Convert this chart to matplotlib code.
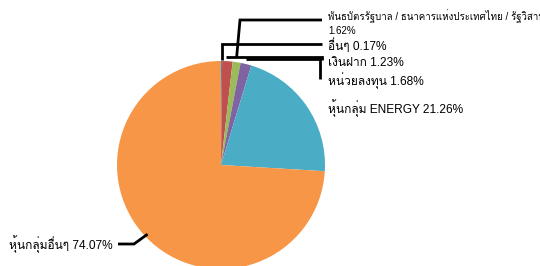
import matplotlib
matplotlib.use("Agg")
import matplotlib.pyplot as plt
import numpy as np
from matplotlib import font_manager
from matplotlib.ft2font import FT2Font

# slice data, clockwise from 12 o'clock
labels = [
    "อื่นๆ",
    "พันธบัตรรัฐบาล / ธนาคารแห่งประเทศไทย / รัฐวิสาหกิจ",
    "เงินฝาก",
    "หน่วยลงทุน",
    "หุ้นกลุ่ม ENERGY",
    "หุ้นกลุ่มอื่นๆ",
]
values = [0.17, 1.62, 1.23, 1.68, 21.26, 74.07]
colors = ["#4f81bd", "#c0504d", "#9bbb59", "#8064a2", "#4bacc6", "#f79646"]


def find_thai_font():
    for f in font_manager.fontManager.ttflist:
        try:
            if 0x0E2B in FT2Font(f.fname).get_charmap():
                return f.name
        except Exception:
            pass
    return "DejaVu Sans"


families = ["Liberation Sans", find_thai_font(), "DejaVu Sans"]
plt.rcParams["font.family"] = families

W, H = 540, 266
fig = plt.figure(figsize=(W / 100, H / 100), dpi=100)
ax = fig.add_axes([0, 0, 1, 1])
ax.set_xlim(0, W)
ax.set_ylim(0, H)
ax.set_aspect("equal")
ax.axis("off")

cx, cy, R = 221, H - 165, 104
wedges, _ = ax.pie(values, colors=colors, startangle=90, counterclock=False,
                   center=(cx, cy), radius=R, frame=False,
                   wedgeprops=dict(linewidth=0))
ax.set_xlim(0, W)
ax.set_ylim(0, H)


def anchor(i, r=1.0):
    w = wedges[i]
    t = np.deg2rad((w.theta1 + w.theta2) / 2)
    return cx + r * R * np.cos(t), cy + r * R * np.sin(t)


def y(v):
    return H - v


lk = dict(color="black", lw=2, solid_capstyle="butt", solid_joinstyle="miter")
lx = 328

# อื่นๆ
ax0, _ = anchor(0)
ax.plot([ax0, ax0, 322], [y(60), y(44), y(44)], **lk)
# พันธบัตร (line drawn toward the green slice as in the original)
a2, _ = anchor(2)
ax.plot([a2, 240, 322], [y(57), y(20), y(20)], **lk)
# เงินฝาก
a1, _ = anchor(1)
ax.plot([a1 - 1, 322, 322], [y(56.5), y(56.5), y(60)], **lk)
# หน่วยลงทุน
a3, _ = anchor(3)
ax.plot([a3, 320, 320], [y(58.5), y(58.5), y(79)], **lk)
# หุ้นกลุ่มอื่นๆ
ox, oy = anchor(5, 0.97)
ax.plot([118, 134, ox], [y(244), y(244), oy], **lk)

fs = 8.6
ax.text(lx, y(16.5), labels[1], fontsize=7, va="center", ha="left")
ax.text(lx, y(31), f"{values[1]:.2f}%", fontsize=7, va="center", ha="left")
ax.text(lx, y(45.5), f"{labels[0]} {values[0]:.2f}%", fontsize=fs, va="center")
ax.text(lx, y(62.5), f"{labels[2]} {values[2]:.2f}%", fontsize=fs, va="center")
ax.text(lx, y(80.5), f"{labels[3]} {values[3]:.2f}%", fontsize=fs, va="center")
ax.text(lx, y(108.5), f"{labels[4]} {values[4]:.2f}%", fontsize=fs, va="center")
ax.text(113, y(244.5), f"{labels[5]} {values[5]:.2f}%", fontsize=fs,
        va="center", ha="right")

fig.savefig("out.png", dpi=100)
